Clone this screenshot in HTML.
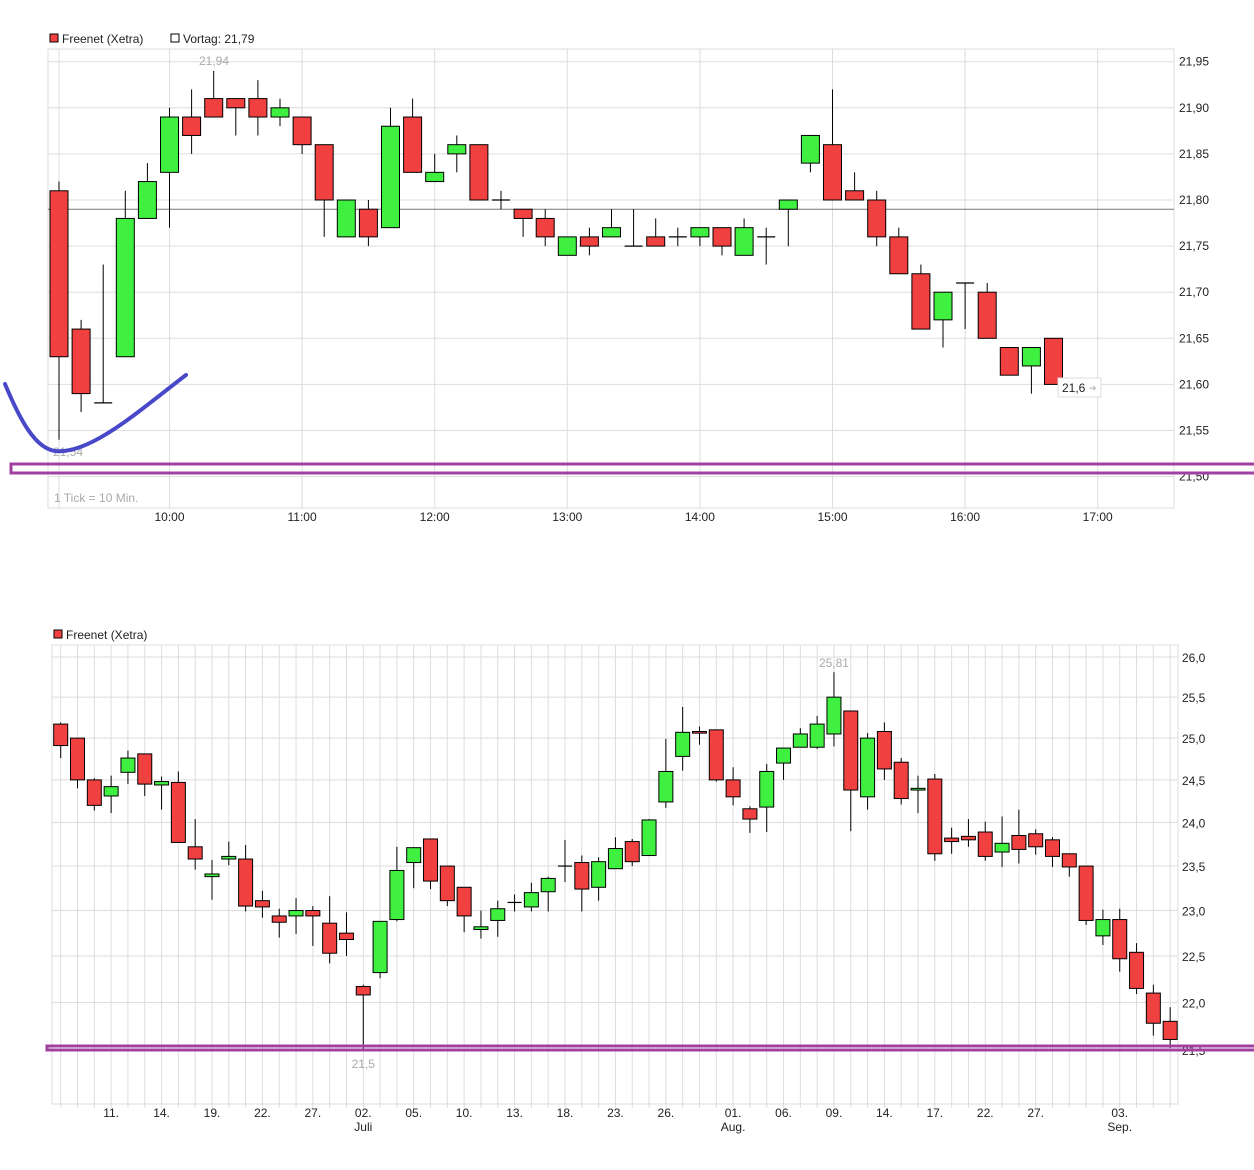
<!DOCTYPE html>
<html><head><meta charset="utf-8">
<style>
body{margin:0;background:#fff;width:1254px;height:1170px;overflow:hidden;font-family:"Liberation Sans",sans-serif;}
svg{position:absolute;left:0;top:0}
text{font-family:"Liberation Sans",sans-serif;}
</style></head>
<body>
<svg id="chart" width="1254" height="1170" viewBox="0 0 1254 1170"></svg>
<script>
// ---- Intraday chart data (10-min candles) ----
const introOpen  = [21.81,21.66,21.58,21.63,21.78,21.83,21.89,21.91,21.91,21.91,21.89,21.89,21.86,21.76,21.79,21.77,21.89,21.82,21.85,21.86,21.80,21.79,21.78,21.74,21.76,21.76,21.75,21.76,21.76,21.76,21.77,21.74,21.76,21.79,21.84,21.86,21.81,21.80,21.76,21.72,21.67,21.71,21.70,21.64,21.62,21.65];
const introHigh  = [21.82,21.67,21.73,21.81,21.84,21.90,21.92,21.94,21.91,21.93,21.91,21.89,21.86,21.80,21.80,21.90,21.91,21.85,21.87,21.86,21.81,21.79,21.79,21.76,21.77,21.79,21.79,21.78,21.77,21.77,21.77,21.78,21.77,21.80,21.87,21.92,21.83,21.81,21.77,21.73,21.70,21.71,21.71,21.64,21.64,21.65];
const introLow   = [21.54,21.57,21.58,21.63,21.78,21.77,21.85,21.89,21.87,21.87,21.88,21.85,21.76,21.76,21.75,21.77,21.83,21.82,21.83,21.80,21.79,21.76,21.75,21.74,21.74,21.76,21.75,21.75,21.75,21.75,21.74,21.74,21.73,21.75,21.83,21.80,21.80,21.75,21.72,21.66,21.64,21.66,21.65,21.61,21.59,21.60];
const introClose = [21.63,21.59,21.58,21.78,21.82,21.89,21.87,21.89,21.90,21.89,21.90,21.86,21.80,21.80,21.76,21.88,21.83,21.83,21.86,21.80,21.80,21.78,21.76,21.76,21.75,21.77,21.75,21.75,21.76,21.77,21.75,21.77,21.76,21.80,21.87,21.80,21.80,21.76,21.72,21.66,21.70,21.71,21.65,21.61,21.64,21.60];
const introYTicks = [21.50,21.55,21.60,21.65,21.70,21.75,21.80,21.85,21.90,21.95];
const introXLabels = ["10:00","11:00","12:00","13:00","14:00","15:00","16:00","17:00"];
const introXLabelIdx = [5,11,17,23,29,35,41,47];
const prevClose = 21.79;

// ---- Daily chart data ----
const dayOpen  = [25.17,25.00,24.50,24.31,24.59,24.81,24.44,24.47,23.72,23.38,23.58,23.58,23.11,22.94,22.94,23.00,22.86,22.75,22.17,22.32,22.90,23.54,23.81,23.50,23.26,22.79,22.89,23.09,23.04,23.21,23.50,23.54,23.26,23.47,23.78,23.62,24.24,24.78,25.08,25.10,24.50,24.16,24.18,24.70,24.89,24.89,25.05,25.33,24.30,25.08,24.71,24.38,24.51,23.82,23.84,23.89,23.66,23.85,23.87,23.80,23.64,23.50,22.72,22.90,22.54,22.10,21.80];
const dayHigh  = [25.19,25.00,24.52,24.55,24.85,24.81,24.54,24.60,24.04,23.57,23.78,23.74,23.22,23.02,23.14,23.05,23.16,22.98,22.19,22.88,23.72,23.71,23.81,23.50,23.26,23.00,23.11,23.18,23.31,23.38,23.80,23.62,23.60,23.83,23.81,24.04,24.99,25.38,25.14,25.10,24.65,24.19,24.69,24.88,25.12,25.27,25.81,25.33,25.06,25.19,24.76,24.55,24.57,23.94,24.04,24.01,24.07,24.15,23.92,23.83,23.64,23.50,23.01,23.02,22.64,22.19,21.95];
const dayLow   = [24.76,24.40,24.14,24.11,24.45,24.31,24.15,23.77,23.46,23.12,23.51,22.99,22.92,22.70,22.74,22.61,22.42,22.50,21.50,22.26,22.88,23.25,23.24,23.05,22.76,22.69,22.71,22.99,22.99,22.99,23.32,22.99,23.11,23.47,23.50,23.62,24.17,24.61,24.92,24.48,24.20,23.88,23.89,24.50,24.89,24.87,24.90,23.90,24.15,24.50,24.21,24.11,23.56,23.64,23.72,23.56,23.49,23.53,23.63,23.49,23.38,22.84,22.62,22.33,22.09,21.65,21.52];
const dayClose = [24.91,24.50,24.20,24.42,24.76,24.45,24.48,23.77,23.58,23.41,23.61,23.05,23.04,22.87,23.00,22.94,22.53,22.68,22.08,22.88,23.45,23.71,23.33,23.11,22.94,22.82,23.02,23.09,23.20,23.36,23.50,23.24,23.55,23.70,23.55,24.03,24.60,25.07,25.06,24.50,24.30,24.04,24.60,24.88,25.05,25.17,25.50,24.38,25.00,24.63,24.28,24.40,23.64,23.78,23.80,23.61,23.76,23.69,23.72,23.61,23.49,22.89,22.90,22.47,22.15,21.78,21.61];
const dayYTicks = [21.5,22.0,22.5,23.0,23.5,24.0,24.5,25.0,25.5,26.0];
const dayXLabels = ["11.","14.","19.","22.","27.","02.","05.","10.","13.","18.","23.","26.","01.","06.","09.","14.","17.","22.","27.","03."];
const dayXLabelIdx = [3,6,9,12,15,18,21,24,27,30,33,36,40,43,46,49,52,55,58,63];
const dayMonthLabels = ["Juli","Aug.","Sep."];
const dayMonthIdx = [18,40,63];

const NS="http://www.w3.org/2000/svg";
const svg=document.getElementById('chart');
function mk(tag,attrs,parent){const e=document.createElementNS(NS,tag);for(const k in attrs)e.setAttribute(k,attrs[k]);(parent||svg).appendChild(e);return e;}
function fmt(v,d){return v.toFixed(d).replace('.',',');}

// ===== TOP CHART =====
const T={l:48,r:1174,t:49,b:508,x0:59,dx:22.1,yTop:21.95,yTopPx:61.7,pxPer:922};
const tx=i=>T.x0+i*T.dx;
const ty=v=>T.yTopPx+(T.yTop-v)*T.pxPer;
const gTop=mk('g',{});


mk('rect',{x:T.l,y:T.t,width:T.r-T.l,height:T.b-T.t,fill:'#fff',stroke:'#ddd'},gTop);
introYTicks.forEach(v=>{
  const l=mk('line',{x1:T.l,x2:T.r,y1:ty(v),y2:ty(v),stroke:'#ddd'},gTop);
  
  
  const t=mk('text',{x:T.r+5,y:ty(v)+4,'font-size':12,fill:'#222'},gTop);
  t.textContent=fmt(v,2);
  
  
});
mk('line',{x1:tx(0),x2:tx(0),y1:T.t,y2:T.b,stroke:'#ddd'},gTop);
introXLabelIdx.forEach((idx,k)=>{
  mk('line',{x1:tx(idx),x2:tx(idx),y1:T.t,y2:T.b,stroke:'#ddd'},gTop);
  const t=mk('text',{x:tx(idx),y:521,'font-size':12,fill:'#222','text-anchor':'middle'},gTop);
  t.textContent=introXLabels[k];
  
  
});
const pl=mk('line',{x1:T.l,x2:T.r,y1:ty(prevClose),y2:ty(prevClose),stroke:'#777'},gTop);



function candles(g,O,H,L,C,xf,yf,w,name){
  for(let i=0;i<O.length;i++){
    const x=xf(i);
    const up=C[i]>O[i], eq=Math.abs(C[i]-O[i])<1e-9;
    const w1=mk('line',{x1:x,x2:x,y1:yf(H[i]),y2:yf(L[i]),stroke:'#000','stroke-width':1},g);
    
    
    if(eq){
      const b=mk('line',{x1:x-w/2,x2:x+w/2,y1:yf(O[i]),y2:yf(O[i]),stroke:'#000','stroke-width':1.2},g);
      
      
    }else{
      const top=yf(Math.max(O[i],C[i])),bot=yf(Math.min(O[i],C[i]));
      const b=mk('rect',{x:x-w/2,y:top,width:w,height:Math.max(bot-top,1),fill:up?'#40f040':'#f04040',stroke:'#000','stroke-width':1},g);
      
      
    }
  }
}
candles(gTop,introOpen,introHigh,introLow,introClose,tx,ty,18,'intraday-candle');

function txt(s,x,y,size,fill,anchor,name){const t=mk('text',{x:x,y:y,'font-size':size,fill:fill,'text-anchor':anchor||'start'});t.textContent=s;
  
  
  return t;}
txt(fmt(Math.max(...introHigh),2),214,65,12,'#aaa','middle','high-label');
txt(fmt(Math.min(...introLow),2),68,456,12,'#aaa','middle','low-label');
txt('1 Tick = 10 Min.',54,502,12,'#aaa','start','tick-interval-note');
// last price box
const lb=mk('rect',{x:1058,y:378,width:43,height:19,fill:'#fff',stroke:'#ddd'});


txt('21,6',1062,392,12,'#222','start','last-price-label');
txt('➔',1089,391,9,'#bbb','start','last-price-arrow');
// legend top
const r1=mk('rect',{x:50,y:34,width:8,height:8,fill:'#f04040',stroke:'#000'});


txt('Freenet (Xetra)',62,43,12,'#222','start','legend-entry-freenet');
const r2=mk('rect',{x:171,y:34,width:8,height:8,fill:'#fff',stroke:'#000'});


txt('Vortag: 21,79',183,43,12,'#222','start','legend-entry-vortag');

// ===== BOTTOM CHART =====
const B={l:52,r:1178,t:645,b:1104,x0:60.7,dx:16.81,top:26.0,topPx:657,bot:21.5,botPx:1050};
const bx=i=>B.x0+i*B.dx;
const by=v=>B.topPx+(Math.log(B.top)-Math.log(v))/(Math.log(B.top)-Math.log(B.bot))*(B.botPx-B.topPx);
const gB=mk('g',{});


mk('rect',{x:B.l,y:B.t,width:B.r-B.l,height:B.b-B.t,fill:'#fff',stroke:'#ddd'},gB);
for(let i=0;i<dayOpen.length;i++){
  mk('line',{x1:bx(i),x2:bx(i),y1:B.t,y2:B.b+4,stroke:'#ddd'},gB);
}
dayYTicks.forEach(v=>{
  const l=mk('line',{x1:B.l,x2:B.r,y1:by(v),y2:by(v),stroke:'#ddd'},gB);
  
  
  const t=mk('text',{x:B.r+4,y:by(v)+5,'font-size':12,fill:'#222'},gB);
  t.textContent=fmt(v,1);
  
  
});
dayXLabelIdx.forEach((idx,k)=>{
  const t=mk('text',{x:bx(idx),y:1117,'font-size':12,fill:'#222','text-anchor':'middle'},gB);
  t.textContent=dayXLabels[k];
  
  
});
dayMonthIdx.forEach((idx,k)=>{
  const t=mk('text',{x:bx(idx),y:1131,'font-size':12,fill:'#222','text-anchor':'middle'},gB);
  t.textContent=dayMonthLabels[k];
  
  
});
candles(gB,dayOpen,dayHigh,dayLow,dayClose,bx,by,14,'daily-candle');
const hiI=dayHigh.indexOf(Math.max(...dayHigh)), loI=dayLow.indexOf(Math.min(...dayLow));
txt(fmt(dayHigh[hiI],2),bx(hiI),667,12,'#aaa','middle','high-label');
txt(fmt(dayLow[loI],1),bx(loI),1068,12,'#aaa','middle','low-label');
const r3=mk('rect',{x:54,y:630,width:8,height:8,fill:'#f04040',stroke:'#000'});


txt('Freenet (Xetra)',66,639,12,'#222','start','legend-entry-freenet');

// ===== annotations =====
const p1=mk('rect',{x:11,y:464,width:1245,height:9,fill:'none',stroke:'#a040a0','stroke-width':3});


const p2=mk('rect',{x:47,y:1046,width:1209,height:4,fill:'none',stroke:'#a040a0','stroke-width':3});


const cv=mk('path',{d:'M5,384 C20,420 35,448 55,451 C90,455 140,410 186,375',fill:'none',stroke:'#4848c8','stroke-width':4,'stroke-linecap':'round'});


</script>
</body></html>
